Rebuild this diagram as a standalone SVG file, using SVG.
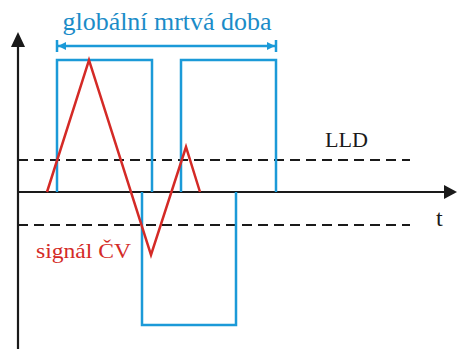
<svg xmlns="http://www.w3.org/2000/svg" width="457" height="349" viewBox="0 0 457 349">
<style>
.ax{stroke:#1a1a1a;stroke-width:2.2;fill:none}
.dash{stroke:#1a1a1a;stroke-width:2;stroke-dasharray:10,6;fill:none}
.blue{stroke:#1b9ad8;stroke-width:2.5;fill:none}
.red{stroke:#d42a26;stroke-width:2.5;fill:none;stroke-linejoin:miter}
.t{font-family:"Liberation Serif",serif}
</style>
<defs>
<marker id="bh" viewBox="0 0 10 10" refX="10" refY="5" markerWidth="8" markerHeight="8" markerUnits="userSpaceOnUse" orient="auto-start-reverse"><path d="M0,0L10,5L0,10z" fill="#1b9ad8"/></marker>
</defs>
<g id="axes">
<line class="ax" x1="18" y1="349" x2="18" y2="46"/>
<path d="M11,47L18,32L25,47z" fill="#1a1a1a"/>
<line class="ax" x1="18" y1="192" x2="446" y2="192"/>
<path d="M444,185L457,192L444,199z" fill="#1a1a1a"/>
</g>
<g id="thresholds">
<line class="dash" x1="18" y1="160" x2="410" y2="160"/>
<line class="dash" x1="18" y1="225" x2="410" y2="225"/>
</g>
<g id="pulses">
<polyline class="blue" points="57,192 57,60 152,60 152,192"/>
<polyline class="blue" points="181,192 181,60 276,60 276,192"/>
<polyline class="blue" points="142,192 142,325 236,325 236,192"/>
</g>
<g id="deadtime">
<line class="blue" x1="58" y1="46" x2="275" y2="46" marker-start="url(#bh)" marker-end="url(#bh)" stroke-width="2"/>
<line class="blue" x1="57" y1="40" x2="57" y2="52" stroke-width="2"/>
<line class="blue" x1="276" y1="40" x2="276" y2="52" stroke-width="2"/>
<text class="t" x="167" y="30" font-size="25" fill="#1b8cc8" text-anchor="middle" textLength="209" lengthAdjust="spacingAndGlyphs">globální mrtvá doba</text>
</g>
<g id="signal">
<polyline class="red" points="47,192 89,60 151,255 186,147 200,192"/>
<text class="t" x="36" y="258" font-size="22" fill="#d42a26" textLength="95" lengthAdjust="spacingAndGlyphs">signál ČV</text>
</g>
<g id="labels">
<text class="t" x="325" y="147" font-size="22" fill="#1a1a1a" textLength="43" lengthAdjust="spacingAndGlyphs">LLD</text>
<text class="t" x="436" y="226" font-size="24" fill="#1a1a1a">t</text>
</g>
</svg>
